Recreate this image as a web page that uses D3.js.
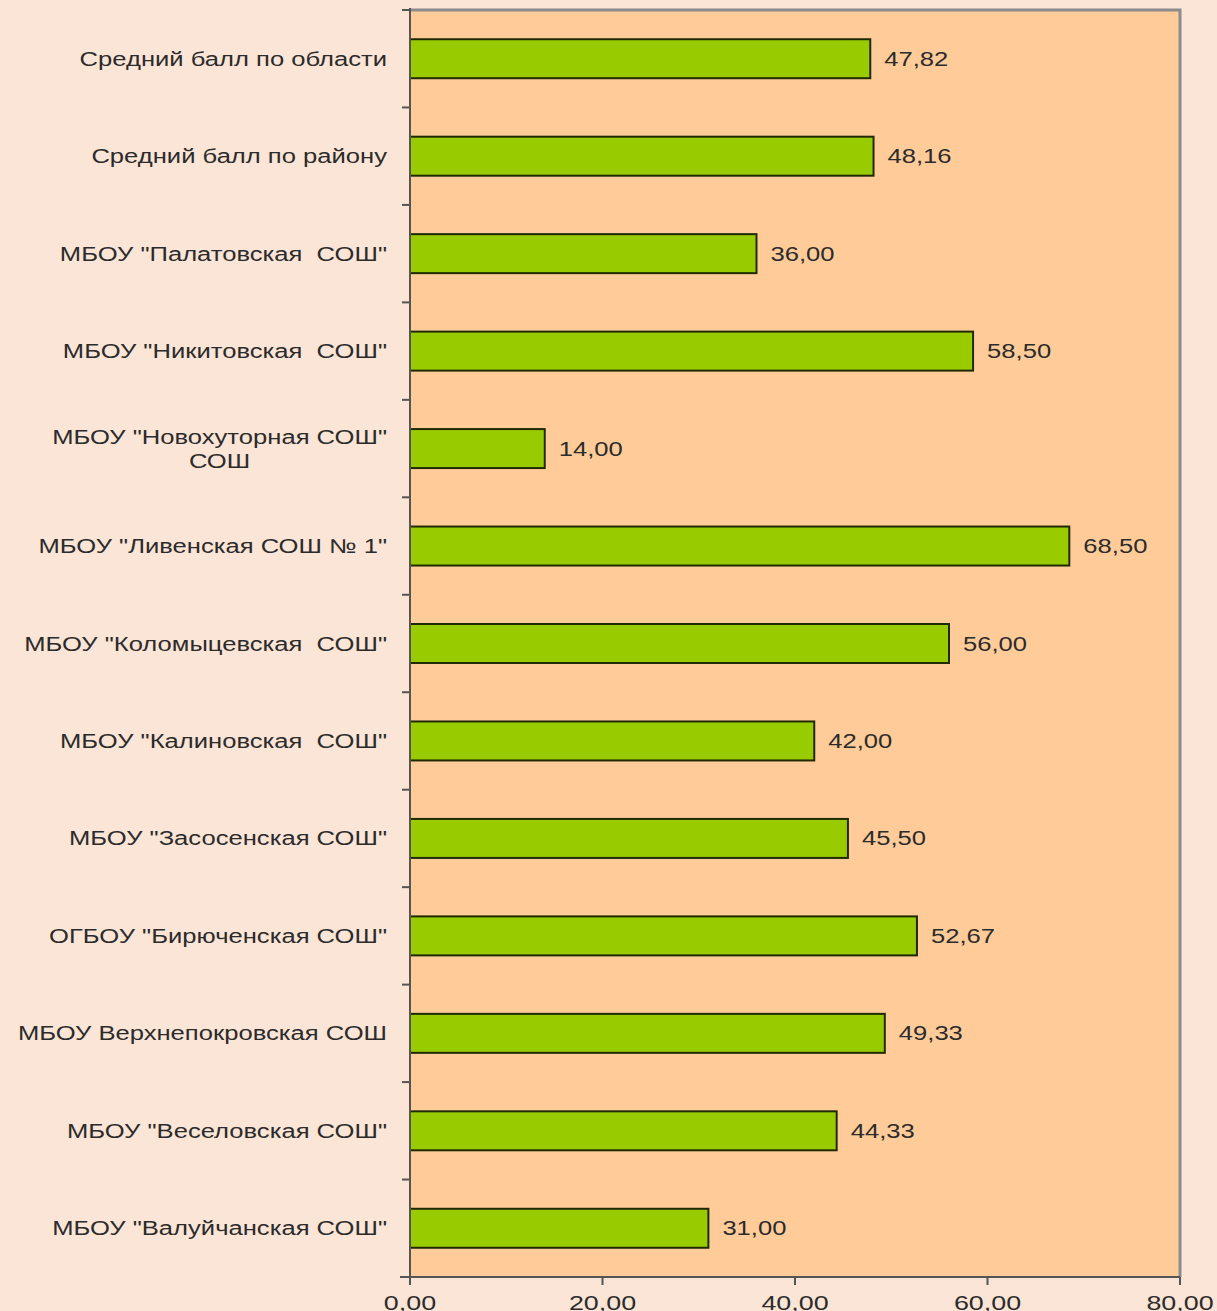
<!DOCTYPE html>
<html>
<head>
<meta charset="utf-8">
<script src="https://cdn.jsdelivr.net/npm/d3@7"></script>
<style>
  body { margin: 0; background: #fbe5d6; }
  svg { display: block; }
  text { font-family: "Liberation Sans", Arial, sans-serif; fill: #2b2b2b; white-space: pre; }
</style>
</head>
<body>
<svg class="chart" width="1217" height="1311"></svg>
<script>
// Data, top to bottom
let schools = [
  ["Средний балл по области"],
  ["Средний балл по району"],
  ["МБОУ \"Палатовская  СОШ\""],
  ["МБОУ \"Никитовская  СОШ\""],
  ["МБОУ \"Новохуторная СОШ\"", "СОШ"],
  ["МБОУ \"Ливенская СОШ № 1\""],
  ["МБОУ \"Коломыцевская  СОШ\""],
  ["МБОУ \"Калиновская  СОШ\""],
  ["МБОУ \"Засосенская СОШ\""],
  ["ОГБОУ \"Бирюченская СОШ\""],
  ["МБОУ Верхнепокровская СОШ"],
  ["МБОУ \"Веселовская СОШ\""],
  ["МБОУ \"Валуйчанская СОШ\""]
];
let scores = [47.82, 48.16, 36.00, 58.50, 14.00, 68.50, 56.00, 42.00, 45.50, 52.67, 49.33, 44.33, 31.00];
let xTicks = [0, 20, 40, 60, 80];

let stretch = 1.28; // the original picture is stretched sideways
let fmt = v => v.toFixed(2).replace(".", ",");

var svg = d3.select(".chart");
var width = +svg.attr("width");
var height = +svg.attr("height");

let margin = {left: 410, right: 37, top: 10, bottom: 34};
let innerWidth = width - margin.left - margin.right;
let innerHeight = height - margin.top - margin.bottom;

let keys = schools.map((d, i) => i);

var xScale = d3.scaleLinear().domain([0, 80]).range([0, innerWidth]);
var yScale = d3.scaleBand().domain(keys).range([0, innerHeight])
               .paddingInner(0.6).paddingOuter(0.3);

let g = svg.append("g").attr("transform", `translate(${margin.left}, ${margin.top})`);

// plot area with grey frame on top / right
g.append("rect")
 .attr("x", 0).attr("y", 0)
 .attr("width", innerWidth).attr("height", innerHeight)
 .attr("fill", "#ffcc99");
g.append("path")
 .attr("d", `M0,0H${innerWidth}V${innerHeight}`)
 .attr("fill", "none")
 .attr("stroke", "#8c8c8c")
 .attr("stroke-width", 3);

// bars
g.selectAll(".bar")
 .data(scores)
 .enter()
 .append("rect")
 .attr("class", "bar")
 .attr("x", 0)
 .attr("y", (d, i) => yScale(i))
 .attr("width", d => xScale(d))
 .attr("height", yScale.bandwidth())
 .attr("fill", "#99cc00")
 .attr("stroke", "#1f2a05")
 .attr("stroke-width", 2);

// value labels
g.selectAll(".val")
 .data(scores)
 .enter()
 .append("text")
 .attr("class", "val")
 .attr("transform", (d, i) => `translate(${xScale(d) + 14}, ${yScale(i) + yScale.bandwidth() / 2}) scale(${stretch},1)`)
 .attr("dy", "0.35em")
 .style("font-size", "20px")
 .text(d => fmt(d));

// left axis: line + ticks at category boundaries
let step = yScale.step();
g.append("line")
 .attr("x1", 0).attr("x2", 0).attr("y1", -2).attr("y2", innerHeight)
 .attr("stroke", "#555").attr("stroke-width", 2);
g.selectAll(".ytick")
 .data(d3.range(keys.length + 1))
 .enter()
 .append("line")
 .attr("x1", -8).attr("x2", 0)
 .attr("y1", i => i * step).attr("y2", i => i * step)
 .attr("stroke", "#555").attr("stroke-width", 2);

// category labels
schools.forEach((lines, i) => {
  let cy = yScale(i) + yScale.bandwidth() / 2;
  let lh = 24;
  let y0 = cy - (lines.length - 1) * lh / 2;
  let t = g.append("text")
           .attr("transform", `translate(-23, ${y0}) scale(${stretch},1)`)
           .attr("text-anchor", "end")
           .attr("dy", "0.35em")
           .style("font-size", "20px")
           .text(lines[0]);
  if (lines.length > 1) {
    let w = t.node().getComputedTextLength();
    g.append("text")
     .attr("transform", `translate(${-23 - w * stretch / 2}, ${y0 + lh}) scale(${stretch},1)`)
     .attr("text-anchor", "middle")
     .attr("dy", "0.35em")
     .style("font-size", "20px")
     .text(lines[1]);
  }
});

// bottom axis
g.append("line")
 .attr("x1", -10).attr("x2", innerWidth).attr("y1", innerHeight).attr("y2", innerHeight)
 .attr("stroke", "#555").attr("stroke-width", 2);
g.selectAll(".xtick")
 .data(xTicks)
 .enter()
 .append("line")
 .attr("x1", d => xScale(d)).attr("x2", d => xScale(d))
 .attr("y1", innerHeight).attr("y2", innerHeight + 8)
 .attr("stroke", "#555").attr("stroke-width", 2);
g.selectAll(".xlabel")
 .data(xTicks)
 .enter()
 .append("text")
 .attr("transform", d => `translate(${xScale(d)}, ${innerHeight + 33}) scale(${stretch},1)`)
 .attr("text-anchor", "middle")
 .style("font-size", "21px")
 .text(d => fmt(d));
</script>
</body>
</html>
